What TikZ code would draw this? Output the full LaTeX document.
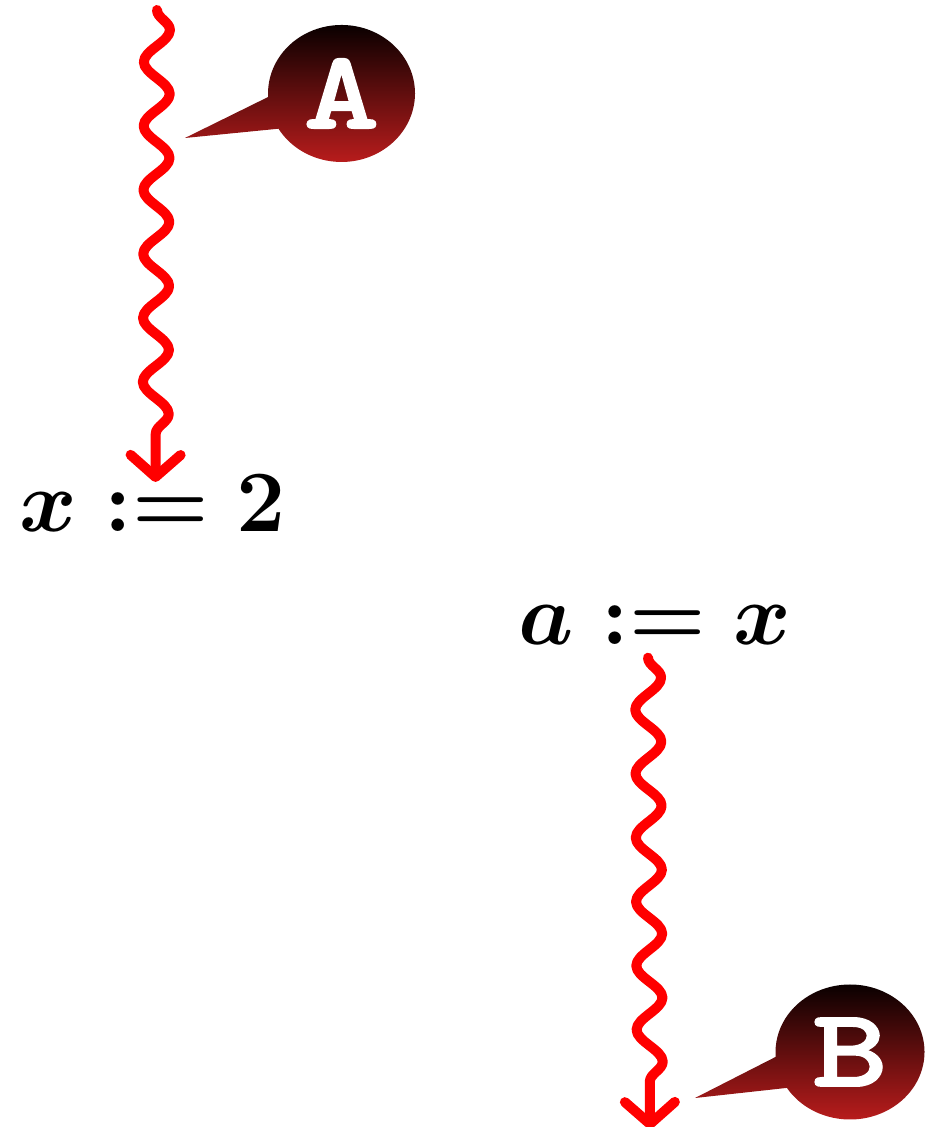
\documentclass[tikz,border=0pt]{standalone}
\usepackage{fontspec}
\newfontfamily\bubblefont{lmmono10-regular.otf}[FakeBold=3, FakeStretch=1.3]
\usetikzlibrary{arrows.meta, positioning}
\usetikzlibrary{decorations.pathmorphing, shapes.callouts}
\definecolor{wavered}{HTML}{FF0000}
\definecolor{calloutred}{HTML}{C41E1E}
\definecolor{calloutdark}{HTML}{0A0000}

\begin{document}
\begin{tikzpicture}[
    wave/.style={wavered, line width=0.1cm, line cap=round, line join=round,
        decorate, decoration={snake, segment length=0.64cm, amplitude=0.13cm, post length=0.3cm},
        -{Straight Barb[length=0.22cm, width=0.5cm, round]}},
    bubble/.style={ellipse callout, top color=calloutdark, bottom color=calloutred,
        text=white, inner sep=0pt, callout pointer arc=28,
        font=\fontsize{31}{36}\bubblefont},
    assign/.style={inner sep=0pt, anchor=base, font=\Huge\boldmath}
]
    \useasboundingbox (0,0) rectangle (9.3,11.27);

    \node[assign] (xa) at (1.525,5.95) {$x := 2$};
    \node[assign] (ax) at (6.55,4.82) {$a := x$};

    \coordinate (topA) at (1.57,11.17);
    \coordinate (tipB) at (6.5,-0.02);

    \draw[wave] (topA) -- ([xshift=0.03cm, yshift=-0.07cm]xa.north);
    \draw[wave] ([xshift=-0.07cm, yshift=-0.12cm]ax.south) -- (tipB);

    \coordinate (pointA) at (1.85,9.89);
    \coordinate (pointB) at (6.95,0.29);

    \node[bubble, minimum width=1.47cm, minimum height=1.37cm,
        callout absolute pointer=(pointA)] (calloutA) at (3.415,10.335) {A};
    \node[bubble, minimum width=1.49cm, minimum height=1.35cm,
        callout absolute pointer=(pointB)] (calloutB) at (8.5,0.75) {B};

\end{tikzpicture}
\end{document}
